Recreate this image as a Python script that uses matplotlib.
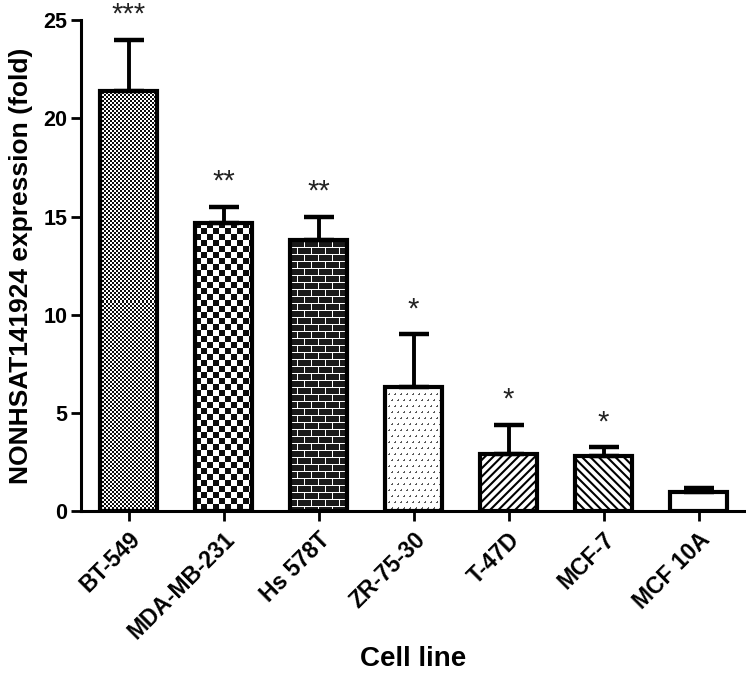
import numpy as np
import matplotlib
matplotlib.use("Agg")
import matplotlib.pyplot as plt

plt.rcParams['font.family'] = ['Liberation Sans', 'DejaVu Sans']
plt.rcParams['hatch.linewidth'] = 1.5
plt.rcParams['hatch.color'] = 'black'

cell_lines = ["BT-549", "MDA-MB-231", "Hs 578T", "ZR-75-30", "T-47D", "MCF-7", "MCF 10A"]
expression = [21.4, 14.7, 13.8, 6.3, 2.9, 2.8, 1.0]
sem = [2.6, 0.8, 1.2, 2.7, 1.5, 0.45, 0.2]
stars = ["***", "**", "**", "*", "*", "*", ""]
fills = ["fine", "checker", "brick", "speckle", "none", "none", "none"]
hatches = ["", "", "", "", "////", "\\\\\\\\", ""]

fig = plt.figure(figsize=(7.46, 6.77), dpi=100)
ax = fig.add_axes([0.1086, 0.245, 0.8914, 0.725])

x = np.arange(len(cell_lines))
width = 0.6
ax.set_xlim(-0.5, 6.5)
ax.set_ylim(0, 25)

# white base fill
base = ax.bar(x, expression, width=width, color='white', edgecolor='none', zorder=2)


def make_pattern(kind, w, h):
    yy, xx = np.mgrid[0:h, 0:w]
    img = np.ones((h, w))
    if kind == "fine":
        img = np.where(((xx // 2) + (yy // 2)) % 2 == 0, 0.05, 1.0)
    elif kind == "checker":
        img = np.where(((xx // 6) + (yy // 6)) % 2 == 0, 0.05, 1.0)
    elif kind == "brick":
        row = yy // 7
        off = (row % 2) * 7
        mortar_h = (yy % 7) == 0
        mortar_v = ((xx + off) % 14) == 0
        img = np.where(mortar_h | mortar_v, 1.0, 0.1)
    elif kind == "speckle":
        row = yy // 6
        off = (row % 2) * 3
        dot = ((yy % 6) < 2) & (((xx + off) % 6) < 2) & (((xx + off + yy) % 3) != 0)
        img = np.where(dot, 0.35, 1.0)
    return img


fig.canvas.draw()
for rect, kind in zip(base.patches, fills):
    if kind == "none":
        continue
    x0, y0 = rect.get_x(), rect.get_y()
    x1, y1 = x0 + rect.get_width(), y0 + rect.get_height()
    p0 = ax.transData.transform((x0, y0))
    p1 = ax.transData.transform((x1, y1))
    w = max(int(round(abs(p1[0] - p0[0]))), 1)
    h = max(int(round(abs(p1[1] - p0[1]))), 1)
    img = make_pattern(kind, w, h)
    im = ax.imshow(img, cmap='gray', vmin=0, vmax=1, extent=(x0, x1, y0, y1),
                   origin='upper', interpolation='nearest', aspect='auto', zorder=2.5)
    im.set_clip_path(rect)

ax.set_xlim(-0.5, 6.5)
ax.set_ylim(0, 25)

# outlines + hatches
for xi, v, hp in zip(x, expression, hatches):
    ax.bar(xi, v, width=width, facecolor='none', edgecolor='black',
           linewidth=3.0, hatch=hp if hp else None, zorder=3)

ax.errorbar(x, expression, yerr=[np.zeros(len(sem)), sem], fmt='none',
            ecolor='black', elinewidth=2.8, capsize=11, capthick=3.2, zorder=4)

for xi, v, e, s in zip(x, expression, sem, stars):
    if s:
        ax.annotate(s, (xi, v + e), xytext=(0, 8), textcoords='offset points',
                    ha='center', va='bottom', fontsize=21, color='#222222')

for side in ['top', 'right']:
    ax.spines[side].set_visible(False)
for side in ['left', 'bottom']:
    ax.spines[side].set_linewidth(2.2)

ax.set_yticks([0, 5, 10, 15, 20, 25])
ax.set_xticks(x)
ax.set_xticklabels(cell_lines, rotation=45, ha='right', rotation_mode='anchor',
                   fontsize=16.5, fontweight='bold')
for lab in ax.get_yticklabels():
    lab.set_fontsize(15.5)
    lab.set_fontweight('bold')
ax.tick_params(axis='both', direction='out', length=7, width=2.0, pad=3)
ax.tick_params(axis='x', pad=5)

ax.set_ylabel("NONHSAT141924 expression (fold)", fontsize=19, fontweight='bold', labelpad=7)
ax.set_xlabel("Cell line", fontsize=20, fontweight='bold', labelpad=2)

fig.savefig("out.png", dpi=100)
